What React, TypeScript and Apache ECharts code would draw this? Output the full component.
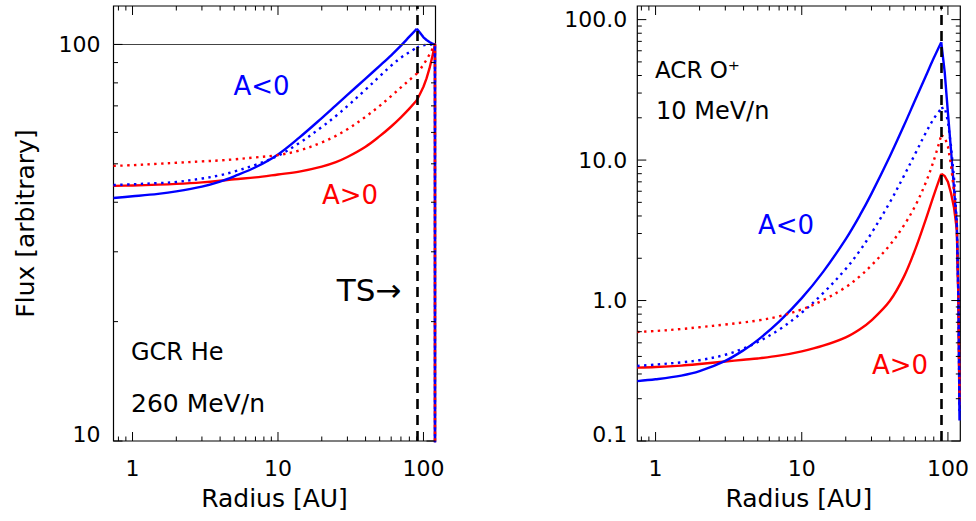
import React, { useEffect, useRef } from 'react';
import * as echarts from 'echarts';

// ---------- data ----------
const LEFT_RADIUS = [0.74, 1, 1.5, 2, 3, 4, 5, 7, 10, 14, 20, 25, 30, 40, 50, 60, 70, 80, 90, 95, 100, 105, 110, 115, 120, 120];
const LEFT_NEG_SOLID = [41.0, 41.4, 42.0, 42.6, 43.8, 45.1, 46.5, 49.0, 52.8, 58.2, 65.2, 70.2, 74.6, 82.0, 88.3, 93.9, 99.3, 104.6, 109.5, 106.8, 104.2, 102.6, 101.4, 100.5, 100, 1];
const LEFT_NEG_DOTTED = [44.2, 44.4, 44.7, 45.0, 45.9, 46.8, 47.8, 49.7, 52.4, 56.4, 61.9, 66.0, 69.9, 76.9, 83.1, 88.4, 92.6, 95.6, 98.2, 99.0, 99.5, 99.8, 100, 100, 100, 1];
const LEFT_POS_DOTTED = [49.4, 49.6, 50.0, 50.3, 50.7, 51.0, 51.3, 51.9, 52.6, 54.0, 56.6, 58.8, 61.1, 65.7, 70.0, 74.1, 77.9, 81.3, 84.4, 86.5, 89.0, 91.5, 94.3, 97.2, 100, 1];
const LEFT_POS_SOLID = [44.0, 44.1, 44.3, 44.5, 44.9, 45.3, 45.7, 46.2, 47.0, 47.8, 49.2, 50.5, 52.0, 55.2, 58.7, 62.1, 65.5, 68.9, 72.3, 75.2, 78.2, 82.1, 87.0, 93.1, 100, 1];

const RIGHT_RADIUS = [0.75, 1, 1.5, 2, 3, 4, 5, 7, 10, 14, 20, 25, 30, 40, 50, 60, 70, 80, 90, 95, 100, 105, 110, 115, 118, 120];
const RIGHT_NEG_SOLID = [0.267, 0.275, 0.292, 0.314, 0.372, 0.443, 0.523, 0.708, 1.04, 1.60, 2.74, 4.05, 5.77, 10.6, 17.6, 27.1, 38.9, 53.2, 69.0, 42.5, 21.7, 11.7, 6.3, 3.5, 1.0, 0.14];
const RIGHT_NEG_DOTTED = [0.342, 0.350, 0.363, 0.376, 0.411, 0.456, 0.507, 0.620, 0.820, 1.128, 1.68, 2.27, 3.02, 4.99, 7.72, 11.2, 15.4, 19.7, 23.3, 23.8, 18.8, 12.5, 7.5, 3.6, 1.0, 0.16];
const RIGHT_POS_DOTTED = [0.597, 0.607, 0.627, 0.646, 0.675, 0.699, 0.721, 0.772, 0.865, 1.006, 1.246, 1.49, 1.78, 2.48, 3.43, 4.76, 6.78, 9.92, 15.0, 14.6, 12.5, 9.2, 6.0, 3.5, 1.0, 0.2];
const RIGHT_POS_SOLID = [0.333, 0.336, 0.344, 0.353, 0.368, 0.379, 0.387, 0.405, 0.435, 0.477, 0.547, 0.625, 0.723, 0.992, 1.48, 2.34, 3.69, 5.61, 7.98, 7.7, 7.0, 5.8, 4.6, 3.2, 1.0, 0.18];

const TS_RADIUS = 90;
const LIS_FLUX = 100;

const LEFT_X_RANGE = [0.74, 121];
const RIGHT_X_RANGE = [0.75, 121.5];
const LEFT_Y_RANGE = [10, 125];
const RIGHT_Y_RANGE = [0.1, 125];

const X_MAJOR_TICKS = [1, 10, 100];
const X_MINOR_TICKS = [0.8, 0.9, 2, 3, 4, 5, 6, 7, 8, 9, 20, 30, 40, 50, 60, 70, 80, 90];
const LEFT_Y_MAJOR_TICKS = [10, 100];
const LEFT_Y_MINOR_TICKS = [20, 30, 40, 50, 60, 70, 80, 90];
const RIGHT_Y_MAJOR_TICKS = [0.1, 1, 10, 100];
const RIGHT_Y_MINOR_TICKS = [0.2, 0.3, 0.4, 0.5, 0.6, 0.7, 0.8, 0.9, 2, 3, 4, 5, 6, 7, 8, 9, 20, 30, 40, 50, 60, 70, 80, 90];

const BLUE = '#0000ff';
const RED = '#ff0000';
const FONT = 'DejaVu Sans';

// ---------- helpers ----------
const isDecade = (v: number) => {
  const l = Math.log10(v);
  return Math.abs(l - Math.round(l)) < 1e-6;
};

const zip = (xs: number[], ys: number[]) => xs.map((x, i) => [x, ys[i]]);

// index of the termination-shock point, where the rising (smooth) part ends
const tsIndex = (xs: number[]) => xs.indexOf(TS_RADIUS);

const lineSeries = (data: number[][], color: string, dotted: boolean, gi: number, smooth: number | boolean) => ({
  type: 'line',
  xAxisIndex: gi,
  yAxisIndex: gi,
  data,
  smooth,
  showSymbol: false,
  symbol: 'none',
  silent: true,
  clip: true,
  z: dotted ? 3 : 2,
  lineStyle: { color, width: 2.4, type: dotted ? [2.4, 4.4] : 'solid', cap: 'butt', join: 'round' },
});

const curve = (xs: number[], ys: number[], color: string, dotted: boolean, gi: number) => {
  const pts = zip(xs, ys);
  const k = tsIndex(xs);
  return [
    lineSeries(pts.slice(0, k + 1), color, dotted, gi, 0.35),
    lineSeries(pts.slice(k), color, dotted, gi, false),
  ];
};

const tickData = (xMaj: number[], xMin: number[], yMaj: number[], yMin: number[], x0: number, y0: number) => [
  ...xMaj.map((v) => [v, y0, 0]),
  ...xMin.map((v) => [v, y0, 1]),
  ...yMaj.map((v) => [x0, v, 2]),
  ...yMin.map((v) => [x0, v, 3]),
];

const tickSeries = (data: number[][], gi: number) => ({
  type: 'custom',
  xAxisIndex: gi,
  yAxisIndex: gi,
  silent: true,
  z: 6,
  data,
  renderItem: (params: any, api: any) => {
    const cs = params.coordSys;
    const kind = api.value(2);
    const p = api.coord([api.value(0), api.value(1)]);
    const len = kind === 0 || kind === 2 ? 9 : 4.5;
    const style = { stroke: '#000', lineWidth: 1 };
    if (kind < 2) {
      const x = p[0];
      const top = cs.y;
      const bot = cs.y + cs.height;
      return {
        type: 'group',
        children: [
          { type: 'line', shape: { x1: x, y1: bot, x2: x, y2: bot - len }, style },
          { type: 'line', shape: { x1: x, y1: top, x2: x, y2: top + len }, style },
        ],
      };
    }
    const y = p[1];
    const l = cs.x;
    const r = cs.x + cs.width;
    return {
      type: 'group',
      children: [
        { type: 'line', shape: { x1: l, y1: y, x2: l + len, y2: y }, style },
        { type: 'line', shape: { x1: r, y1: y, x2: r - len, y2: y }, style },
      ],
    };
  },
});

const refLines = (gi: number, withLis: boolean) => ({
  type: 'line',
  xAxisIndex: gi,
  yAxisIndex: gi,
  data: [],
  silent: true,
  z: 5,
  markLine: {
    silent: true,
    symbol: 'none',
    animation: false,
    label: { show: false },
    data: [
      { xAxis: TS_RADIUS, lineStyle: { color: '#000', width: 2.6, type: [10, 6] } },
      ...(withLis ? [{ yAxis: LIS_FLUX, lineStyle: { color: '#444', width: 1, type: 'solid' } }] : []),
    ],
  },
});

const labelStyle = { fontFamily: FONT, fontSize: 22, color: '#000' };

const xAxisCfg = (gi: number, range: number[]) => ({
  type: 'log',
  gridIndex: gi,
  min: range[0],
  max: range[1],
  logBase: 10,
  name: 'Radius [AU]',
  nameLocation: 'middle',
  nameGap: 45,
  nameTextStyle: { fontFamily: FONT, fontSize: 25, color: '#000' },
  axisLine: { show: false },
  axisTick: { show: false },
  splitLine: { show: false },
  minorTick: { show: false },
  axisLabel: {
    ...labelStyle,
    margin: 16,
    formatter: (v: number) => (isDecade(v) ? String(Math.round(v)) : ''),
  },
});

const yAxisCfg = (gi: number, range: number[], fmt: (v: number) => string, margin: number, name?: string) => ({
  type: 'log',
  gridIndex: gi,
  min: range[0],
  max: range[1],
  logBase: 10,
  name: name || '',
  nameLocation: 'middle',
  nameGap: 76,
  nameTextStyle: { fontFamily: FONT, fontSize: 25, color: '#000' },
  axisLine: { show: false },
  axisTick: { show: false },
  splitLine: { show: false },
  minorTick: { show: false },
  axisLabel: {
    ...labelStyle,
    margin,
    formatter: (v: number) => {
      if (!isDecade(v)) return '';
      const t = fmt(v);
      return Math.abs(v - range[0]) < 1e-9 ? `{lo|${t}}` : t;
    },
    rich: { lo: { ...labelStyle, padding: [0, 0, 14, 0] } },
  },
});

const txt = (text: string, x: number, y: number, color: string, size: number, align = 'center') => ({
  type: 'text',
  x,
  y,
  silent: true,
  z: 10,
  style: { text, fill: color, fontFamily: FONT, fontSize: size, align, verticalAlign: 'middle' },
});

export default function App() {
  const ref = useRef<HTMLDivElement>(null);

  useEffect(() => {
    if (!ref.current) return;
    const chart = echarts.init(ref.current, undefined, { renderer: 'svg' });
    const gridBase = { show: true, borderColor: '#000', borderWidth: 1.2, backgroundColor: 'transparent', containLabel: false };
    chart.setOption({
      animation: false,
      backgroundColor: '#fff',
      grid: [
        { ...gridBase, left: 113.5, top: 6, width: 322, height: 435 },
        { ...gridBase, left: 637.3, top: 6, width: 323, height: 435 },
      ],
      xAxis: [xAxisCfg(0, LEFT_X_RANGE), xAxisCfg(1, RIGHT_X_RANGE)],
      yAxis: [
        yAxisCfg(0, LEFT_Y_RANGE, (v) => String(Math.round(v)), 13, 'Flux [arbitrary]'),
        yAxisCfg(1, RIGHT_Y_RANGE, (v) => v.toFixed(1), 10),
      ],
      series: [
        ...curve(LEFT_RADIUS, LEFT_POS_SOLID, RED, false, 0),
        ...curve(LEFT_RADIUS, LEFT_NEG_SOLID, BLUE, false, 0),
        ...curve(LEFT_RADIUS, LEFT_NEG_DOTTED, BLUE, true, 0),
        ...curve(LEFT_RADIUS, LEFT_POS_DOTTED, RED, true, 0),
        refLines(0, true),
        tickSeries(tickData(X_MAJOR_TICKS, X_MINOR_TICKS, LEFT_Y_MAJOR_TICKS, LEFT_Y_MINOR_TICKS, LEFT_X_RANGE[0], LEFT_Y_RANGE[0]), 0),
        ...curve(RIGHT_RADIUS, RIGHT_POS_SOLID, RED, false, 1),
        ...curve(RIGHT_RADIUS, RIGHT_NEG_SOLID, BLUE, false, 1),
        ...curve(RIGHT_RADIUS, RIGHT_NEG_DOTTED, BLUE, true, 1),
        ...curve(RIGHT_RADIUS, RIGHT_POS_DOTTED, RED, true, 1),
        refLines(1, false),
        tickSeries(tickData(X_MAJOR_TICKS, X_MINOR_TICKS, RIGHT_Y_MAJOR_TICKS, RIGHT_Y_MINOR_TICKS, RIGHT_X_RANGE[0], RIGHT_Y_RANGE[0]), 1),
      ],
      graphic: [
        txt('A<0', 261.5, 86, BLUE, 26),
        txt('A>0', 350, 195, RED, 26),
        txt('TS→', 369, 290, '#000', 31),
        txt('GCR He', 131, 352, '#000', 24, 'left'),
        txt('260 MeV/n', 131, 403, '#000', 25, 'left'),
        txt('ACR O⁺', 655, 70, '#000', 23, 'left'),
        txt('10 MeV/n', 656, 111, '#000', 24, 'left'),
        txt('A<0', 786, 225, BLUE, 26),
        txt('A>0', 900, 365, RED, 26),
      ],
    });
    return () => chart.dispose();
  }, []);

  return (
    <div
      ref={ref}
      style={{ position: 'fixed', left: 0, top: 0, width: 976, height: 521, background: '#fff' }}
    />
  );
}
